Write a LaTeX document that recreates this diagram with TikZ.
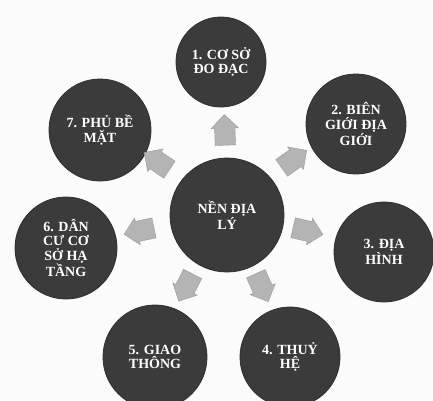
\documentclass[tikz,border=0pt]{standalone}
\usepackage{fontspec}
\setmainfont{Liberation Serif}
\usetikzlibrary{shapes.arrows}
\definecolor{discfill}{HTML}{3B3B3B}
\definecolor{arrowfill}{HTML}{B4B4B4}
\definecolor{paper}{HTML}{FBFBFB}
\tikzset{
  disc/.style={circle, fill=discfill, draw=discfill!80!black, line width=0.8pt,
    inner sep=0pt, minimum size=#1, text=white, align=center,
    font=\bfseries\fontsize{14}{14.5}\selectfont},
  outarrow/.style={single arrow, fill=arrowfill, draw=arrowfill!85!black, line width=0.4pt,
    inner sep=10pt, single arrow head extend=3.5pt, minimum height=28pt, rotate=#1}
}
\begin{document}
\begin{tikzpicture}[x=1pt,y=-1pt]
\fill[paper] (0,0) rectangle (433,400);
\useasboundingbox (0,0) rectangle (433,400);
\begin{scope}
\clip (0,0) rectangle (433,400);
\node[disc=114pt] (center) at (227,215) {NỀN ĐỊA\\LÝ};
\node[disc=90pt]  (n1) at (221,62)  {1. CƠ SỞ\\ĐO ĐẠC};
\node[disc=100pt] (n2) at (356,124) {2. BIÊN\\GIỚI ĐỊA\\GIỚI};
\node[disc=100pt] (n3) at (384,252) {3. ĐỊA\\HÌNH};
\node[disc=100pt] (n4) at (290,357) {4. THUỶ\\HỆ};
\node[disc=104pt] (n5) at (155,357) {5. GIAO\\THÔNG};
\node[disc=102pt] (n6) at (66,248)  {6. DÂN\\CƯ CƠ\\SỞ HẠ\\TẦNG};
\node[disc=102pt] (n7) at (100,130) {7. PHỦ BỀ\\MẶT};
\node[outarrow=92]   (a1) at (225,135) {};
\node[outarrow=35]   (a2) at (290,162) {};
\node[outarrow=-13]  (a3) at (303,230) {};
\node[outarrow=-66]  (a4) at (260,283) {};
\node[outarrow=-117] (a5) at (188,283) {};
\node[outarrow=192]  (a6) at (144,230) {};
\node[outarrow=146]  (a7) at (161,164) {};
\end{scope}
\end{tikzpicture}
\end{document}
